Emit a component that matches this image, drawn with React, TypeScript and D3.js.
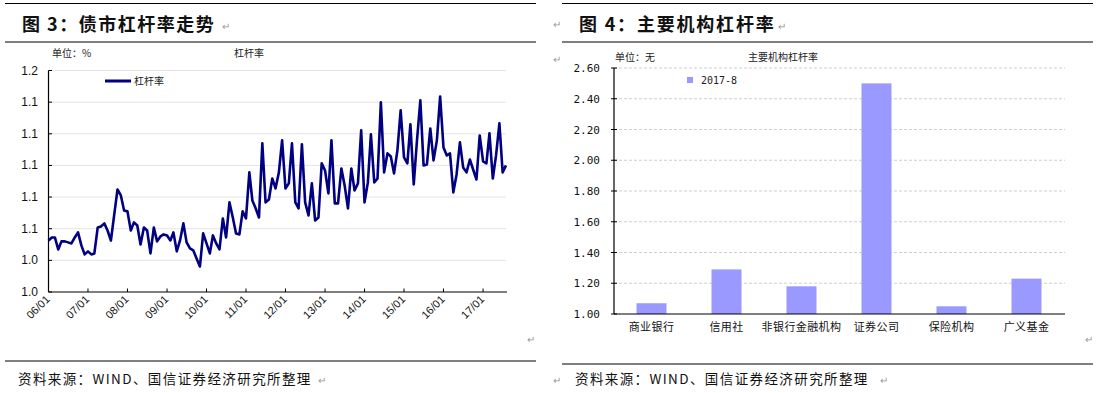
import React from "react";
import * as d3 from "d3";

// ---------- Left chart data (monthly, 2006-01 .. 2017-08) ----------
const startYear = 2006;
const leverage = [
  1.0407, 1.0431, 1.0431, 1.0336, 1.04, 1.04, 1.0392, 1.0384, 1.0431, 1.0471,
  1.0368, 1.0297, 1.0321, 1.0297, 1.0305, 1.051, 1.0518, 1.0542, 1.0486, 1.0407,
  1.0613, 1.081, 1.0763, 1.0644, 1.0637, 1.0486, 1.055, 1.0526, 1.0376, 1.051,
  1.0486, 1.0305, 1.051, 1.04, 1.0439, 1.0455, 1.0447, 1.0407, 1.0471, 1.0321,
  1.0407, 1.0542, 1.0392, 1.0344, 1.0328, 1.0265, 1.0202, 1.0463, 1.0384, 1.0305,
  1.0447, 1.0384, 1.0336, 1.0581, 1.0431, 1.0708, 1.0589, 1.0463, 1.0455, 1.0637,
  1.0581, 1.0945, 1.0723, 1.066, 1.0589, 1.1174, 1.0708, 1.0731, 1.0897, 1.0818,
  1.0945, 1.1198, 1.0818, 1.0858, 1.1174, 1.0708, 1.066, 1.1166, 1.0708, 1.0605,
  1.0858, 1.0565, 1.0589, 1.1016, 1.096, 1.0779, 1.1198, 1.07, 1.07, 1.0976,
  1.0842, 1.066, 1.0976, 1.0802, 1.0858, 1.1277, 1.0708, 1.0866, 1.1245, 1.0866,
  1.0897, 1.1498, 1.0945, 1.1095, 1.1071, 1.0937, 1.1119, 1.1435, 1.1063, 1.1016,
  1.1324, 1.085, 1.1198, 1.1514, 1.1, 1.1008, 1.1292, 1.104, 1.1198, 1.1545,
  1.1142, 1.1079, 1.1095, 1.0787, 1.0929, 1.1182, 1.0984, 1.0945, 1.1047, 1.0968,
  1.0889, 1.1237, 1.1032, 1.1016, 1.1253, 1.0897, 1.1079, 1.1332, 1.0945, 1.1,
];
const leftYTicks = [1.0, 1.025, 1.05, 1.075, 1.1, 1.125, 1.15, 1.175];
const leftYLabels = ["1.0", "1.0", "1.1", "1.1", "1.1", "1.1", "1.1", "1.2"];
const leftXYears = [2006, 2007, 2008, 2009, 2010, 2011, 2012, 2013, 2014, 2015, 2016, 2017];
const leftXLabels = ["06/01", "07/01", "08/01", "09/01", "10/01", "11/01", "12/01", "13/01", "14/01", "15/01", "16/01", "17/01"];

// ---------- Right chart data ----------
const institutions = ["商业银行", "信用社", "非银行金融机构", "证券公司", "保险机构", "广义基金"];
const ratios = [1.07, 1.29, 1.18, 2.5, 1.05, 1.23];
const rightYTicks = [1.0, 1.2, 1.4, 1.6, 1.8, 2.0, 2.2, 2.4, 2.6];
const rightYLabels = ["1.00", "1.20", "1.40", "1.60", "1.80", "2.00", "2.20", "2.40", "2.60"];
const rightSeriesName = "2017-8";

const CJK = "'Noto Sans CJK SC', 'Noto Sans', sans-serif";
const ARIAL = "'Liberation Sans', Arial, sans-serif";
const MONO = "'DejaVu Sans Mono', 'Liberation Mono', monospace";
const RET = "↵";

export default function App() {
  // Left scales
  const dates = leverage.map((_, i) => new Date(startYear, i, 1));
  const lx = d3
    .scaleTime()
    .domain([dates[0], dates[dates.length - 1]])
    .range([48.5, 506]);
  const ly = d3.scaleLinear().domain([1.0, 1.175]).range([292, 70.5]);
  const line = d3
    .line<number>()
    .x((_, i) => lx(dates[i]))
    .y((d) => ly(d));

  // Right scales
  const rx = d3
    .scaleBand<string>()
    .domain(institutions)
    .range([614, 1064])
    .paddingInner(0.6)
    .paddingOuter(0.3);
  const ry = d3.scaleLinear().domain([1.0, 2.6]).range([314, 68]);

  return (
    <svg
      width={1099}
      height={393}
      style={{ position: "absolute", left: 0, top: 0, background: "#fff" }}
    >
      <rect x={0} y={0} width={1099} height={393} fill="#fff" />

      {/* ================= LEFT PANEL ================= */}
      <line x1={5} x2={536} y1={3.5} y2={3.5} stroke="#000" strokeWidth={1.2} />
      <text x={22} y={31} fontFamily={CJK} fontWeight={700} fontSize={18} letterSpacing={1.5} fill="#111">
        图 3：债市杠杆率走势
      </text>
      <text x={222} y={30} fontFamily={ARIAL} fontSize={10} fill="#999">{RET}</text>
      <line x1={5} x2={536} y1={42} y2={42} stroke="#000" strokeWidth={1.2} />
      <text x={52} y={57} fontFamily={CJK} fontSize={10} fill="#222">单位：%</text>
      <text x={234} y={57} fontFamily={CJK} fontSize={10} fill="#222">杠杆率</text>

      {/* gridlines */}
      {leftYTicks.map((t, i) =>
        i === 0 ? null : (
          <line key={"lg" + i} x1={48.5} x2={506} y1={ly(t)} y2={ly(t)} stroke="#e4e4e4" strokeWidth={1} />
        )
      )}
      {/* y axis */}
      <line x1={48.5} x2={48.5} y1={70.5} y2={292} stroke="#000" strokeWidth={1.2} />
      {leftYTicks.map((t, i) => (
        <g key={"ly" + i}>
          <line x1={48.5} x2={52} y1={ly(t)} y2={ly(t)} stroke="#000" />
          <text x={38} y={ly(t) + 4} textAnchor="end" fontFamily={ARIAL} fontSize={12} fill="#111">
            {leftYLabels[i]}
          </text>
        </g>
      ))}
      {/* x axis */}
      <line x1={48.5} x2={507} y1={292} y2={292} stroke="#000" strokeWidth={1.2} />
      {leftXYears.map((yr, i) => {
        const x = lx(new Date(yr, 0, 1));
        return (
          <g key={"lx" + i}>
            <line x1={x} x2={x} y1={292} y2={288.5} stroke="#000" />
            <text
              transform={`translate(${x + 2},${300}) rotate(-45)`}
              textAnchor="end"
              fontFamily={ARIAL}
              fontSize={11}
              fill="#111"
            >
              {leftXLabels[i]}
            </text>
          </g>
        );
      })}
      {/* line */}
      <path d={line(leverage) || ""} fill="none" stroke="#000080" strokeWidth={2.6} strokeLinejoin="round" />
      {/* legend */}
      <line x1={105} x2={131} y1={81} y2={81} stroke="#000080" strokeWidth={3} />
      <text x={134} y={85} fontFamily={CJK} fontSize={10} fill="#222">杠杆率</text>

      <text x={527} y={343} fontFamily={ARIAL} fontSize={10} fill="#999">{RET}</text>
      <line x1={5} x2={536} y1={361} y2={361} stroke="#000" strokeWidth={1.2} />
      <text x={18} y={384} fontFamily={CJK} fontSize={13.5} letterSpacing={1.4} fill="#111">
        资料来源：WIND、国信证券经济研究所整理
      </text>
      <text x={318} y={384} fontFamily={ARIAL} fontSize={10} fill="#999">{RET}</text>

      {/* ================= RIGHT PANEL ================= */}
      <line x1={562} x2={1093} y1={3.5} y2={3.5} stroke="#000" strokeWidth={1.2} />
      <text x={553} y={28} fontFamily={ARIAL} fontSize={10} fill="#999">{RET}</text>
      <text x={579} y={31} fontFamily={CJK} fontWeight={700} fontSize={18} letterSpacing={1.8} fill="#111">
        图 4：主要机构杠杆率
      </text>
      <text x={778} y={30} fontFamily={ARIAL} fontSize={10} fill="#999">{RET}</text>
      <line x1={562} x2={1093} y1={42} y2={42} stroke="#000" strokeWidth={1.2} />
      <text x={553} y={63} fontFamily={ARIAL} fontSize={10} fill="#999">{RET}</text>
      <text x={615} y={61} fontFamily={CJK} fontSize={10} fill="#222">单位：无</text>
      <text x={748} y={61} fontFamily={CJK} fontSize={10} fill="#222">主要机构杠杆率</text>

      {rightYTicks.map((t, i) =>
        i === 0 ? null : (
          <line key={"rg" + i} x1={614} x2={1065} y1={ry(t)} y2={ry(t)} stroke="#cfcfcf" strokeDasharray="3,2" strokeWidth={1} />
        )
      )}
      {institutions.map((c, i) => (
        <rect
          key={"bar" + i}
          x={rx(c)}
          y={ry(ratios[i])}
          width={rx.bandwidth()}
          height={ry(1.0) - ry(ratios[i])}
          fill="#9999FF"
        />
      ))}
      <line x1={614} x2={614} y1={68} y2={314} stroke="#000" strokeWidth={1.2} />
      {rightYTicks.map((t, i) => (
        <g key={"ry" + i}>
          <line x1={611} x2={617} y1={ry(t)} y2={ry(t)} stroke="#000" />
          <text x={600} y={ry(t) + 4} textAnchor="end" fontFamily={MONO} fontSize={11} fill="#111">
            {rightYLabels[i]}
          </text>
        </g>
      ))}
      <line x1={614} x2={1065} y1={314} y2={314} stroke="#000" strokeWidth={1.2} />
      {institutions.map((c, i) => (
        <text
          key={"cat" + i}
          x={(rx(c) || 0) + rx.bandwidth() / 2}
          y={331}
          textAnchor="middle"
          fontFamily={CJK}
          fontSize={11}
          letterSpacing={0.4}
          fill="#111"
        >
          {c}
        </text>
      ))}
      {/* legend */}
      <rect x={687} y={77} width={6} height={6} fill="#9999FF" />
      <text x={701} y={84} fontFamily={MONO} fontSize={10} fill="#222">{rightSeriesName}</text>

      <text x={1085} y={343} fontFamily={ARIAL} fontSize={10} fill="#999">{RET}</text>
      <line x1={562} x2={1093} y1={364} y2={364} stroke="#000" strokeWidth={1.2} />
      <text x={553} y={384} fontFamily={ARIAL} fontSize={10} fill="#999">{RET}</text>
      <text x={575} y={384} fontFamily={CJK} fontSize={13.5} letterSpacing={1.4} fill="#111">
        资料来源：WIND、国信证券经济研究所整理
      </text>
      <text x={880} y={384} fontFamily={ARIAL} fontSize={10} fill="#999">{RET}</text>
    </svg>
  );
}
